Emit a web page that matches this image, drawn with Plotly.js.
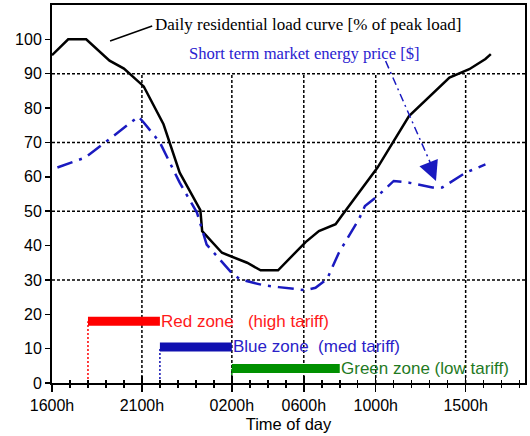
<!DOCTYPE html>
<html>
<head>
<meta charset="utf-8">
<script src="https://cdn.plot.ly/plotly-3.0.1.min.js"></script>
<style>html,body{margin:0;padding:0;background:#fff;}#chart{width:530px;height:436px;}</style>
</head>
<body>
<div id="chart"></div>
<script>
// Hours elapsed since 1600h
var loadHours = [0, 0.9, 1.9, 3.2, 4.0, 5.1, 6.2, 7.1, 8.25, 8.35, 9.45, 10.85, 11.6, 12.57, 14.1, 14.84, 15.77, 16.1, 18.1, 19.85, 22.1, 23.2, 24.1, 24.4];
var loadValues = [95.4, 100, 100, 93.8, 91.5, 86.3, 75.3, 61.2, 50.3, 44.2, 37.9, 35, 32.8, 32.8, 41, 44.2, 46.2, 48.6, 62.7, 77.7, 88.9, 91.3, 94.3, 95.7];

var priceHours = [0.3, 1.84, 2.95, 4.8, 5.1, 6.0, 7.1, 8.06, 8.6, 10.0, 10.47, 11.8, 12.6, 14.1, 14.65, 15.3, 15.95, 17.06, 17.4, 18.1, 19.0, 19.85, 21.15, 21.7, 23.0, 24.1];
var priceValues = [62.7, 65.6, 70, 77.5, 75.8, 70, 58.3, 49.6, 40.3, 32, 30.1, 28.4, 27.9, 27, 27.7, 30.3, 37.9, 47.6, 51.5, 54.4, 58.8, 58.3, 56.9, 56.9, 61.2, 63.6];

var zoneNames = ['Red zone   (high tariff)', 'Blue zone  (med tariff)', 'Green zone (low tariff)'];
var zoneStart = [2, 6, 10];
var zoneEnd = [6, 10, 16];
var zoneLevel = [18, 10.5, 4.2];

var tickHours = [0, 5, 10, 14, 18, 23];
var tickLabels = ['1600h', '2100h', '0200h', '0600h', '1000h', '1500h'];
var minorHours = [];
for (var h = 0; h <= 26; h++) minorHours.push(h);
var hGrid = [30, 50, 70, 90];
var vGrid = [5, 10, 14, 18, 23];

var zoneBarColors = ['#ff0000', '#1010b0', '#009000'];
var zoneTextColors = ['#ff1a1a', '#2a22c8', '#1f7a1f'];

var traces = [];
for (var i = 0; i < zoneNames.length; i++) {
  traces.push({x: [zoneStart[i], zoneStart[i]], y: [0, zoneLevel[i]], mode: 'lines', line: {color: zoneBarColors[i], width: 1.5, dash: '2px,2px'}, hoverinfo: 'skip', showlegend: false});
  traces.push({x: [zoneStart[i], zoneEnd[i]], y: [zoneLevel[i], zoneLevel[i]], mode: 'lines', line: {color: zoneBarColors[i], width: 9}, showlegend: false});
}
traces.push({x: loadHours, y: loadValues, mode: 'lines', line: {color: '#000', width: 2.5}, showlegend: false});
traces.push({x: priceHours, y: priceValues, mode: 'lines', line: {color: '#1a1ac0', width: 2.5, dash: '16px,7px,3px,7px'}, showlegend: false});
traces.push({x: [0], y: [0], xaxis: 'x2', mode: 'markers', marker: {opacity: 0}, showlegend: false, hoverinfo: 'skip'});

var xr = [0, 26.3];
var shapes = [];
hGrid.forEach(function (v) {
  shapes.push({type: 'line', xref: 'paper', yref: 'y', x0: 0, x1: 1, y0: v, y1: v, line: {color: '#000', width: 1.5, dash: '3px,2px'}, layer: 'below'});
});
vGrid.forEach(function (v) {
  shapes.push({type: 'line', xref: 'x', yref: 'y', x0: v, x1: v, y0: 0, y1: 90, line: {color: '#000', width: 1.5, dash: '3px,2px'}, layer: 'below'});
});
shapes.push({type: 'line', xref: 'x', yref: 'y', x0: 3.23, y0: 99.5, x1: 5.57, y1: 103.9, line: {color: '#000', width: 1.5}});
shapes.push({type: 'line', xref: 'x', yref: 'y', x0: 18.55, y0: 93.7, x1: 21.25, y1: 61.5, line: {color: '#1a1ac0', width: 1.5, dash: '8px,4px,2px,4px'}});

var serif = 'Liberation Serif, Times New Roman, serif';
var sans = 'Liberation Sans, Arial, sans-serif';
var annotations = [
  {x: 5.6, y: 104.3, xref: 'x', yref: 'y', text: 'Daily residential load curve [% of peak load]', showarrow: false, xanchor: 'left', yanchor: 'middle', font: {family: serif, size: 17, color: '#000'}},
  {x: 7.5, y: 96.0, xref: 'x', yref: 'y', text: 'Short term market energy price [$]', showarrow: false, xanchor: 'left', yanchor: 'middle', font: {family: serif, size: 16.6, color: '#2a22d0'}},
  {x: 21.35, y: 58.8, xref: 'x', yref: 'y', ax: -6, ay: -15, text: '', showarrow: true, arrowhead: 2, arrowsize: 2.2, arrowwidth: 1.8, arrowcolor: '#1a1ac0', standoff: 0}
];
for (var j = 0; j < zoneNames.length; j++) {
  annotations.push({x: zoneEnd[j], y: zoneLevel[j], xref: 'x', yref: 'y', text: zoneNames[j].replace(/ /g, '&nbsp;'), showarrow: false, xanchor: 'left', yanchor: 'middle', xshift: -1, font: {family: sans, size: 17, color: zoneTextColors[j]}});
}

var axFont = {family: sans, size: 16, color: '#000'};
var layout = {
  width: 530, height: 436,
  margin: {l: 52, r: 5, t: 5, b: 53},
  paper_bgcolor: '#fff', plot_bgcolor: '#fff',
  font: axFont,
  xaxis: {range: xr, tickvals: tickHours, ticktext: tickLabels, ticks: 'outside', ticklen: 7, tickwidth: 1.5, tickcolor: '#000',
    minor: {tickvals: minorHours, ticks: 'outside', ticklen: 3, tickwidth: 1.5, tickcolor: '#000'},
    showgrid: false, zeroline: false, showline: true, linewidth: 2, linecolor: '#000', mirror: true,
    tickfont: axFont, title: {text: 'Time of day', font: {family: sans, size: 16.5, color: '#000'}, standoff: 5}},
  xaxis2: {range: xr, overlaying: 'x', anchor: 'y', side: 'bottom', tickvals: tickHours, ticks: 'inside', ticklen: 7, tickwidth: 1.5, tickcolor: '#000',
    minor: {tickvals: minorHours, ticks: 'inside', ticklen: 3, tickwidth: 1.5, tickcolor: '#000'},
    showticklabels: false, showgrid: false, zeroline: false, showline: false},
  yaxis: {range: [0, 110], tickvals: [0, 10, 20, 30, 40, 50, 60, 70, 80, 90, 100], ticks: 'outside', ticklen: 5, tickwidth: 1.5, tickcolor: '#000',
    showgrid: false, zeroline: false, showline: true, linewidth: 2, linecolor: '#000', mirror: true, tickfont: axFont},
  shapes: shapes,
  annotations: annotations,
  showlegend: false
};
Plotly.newPlot('chart', traces, layout, {displayModeBar: false, staticPlot: true});
</script>
</body>
</html>
